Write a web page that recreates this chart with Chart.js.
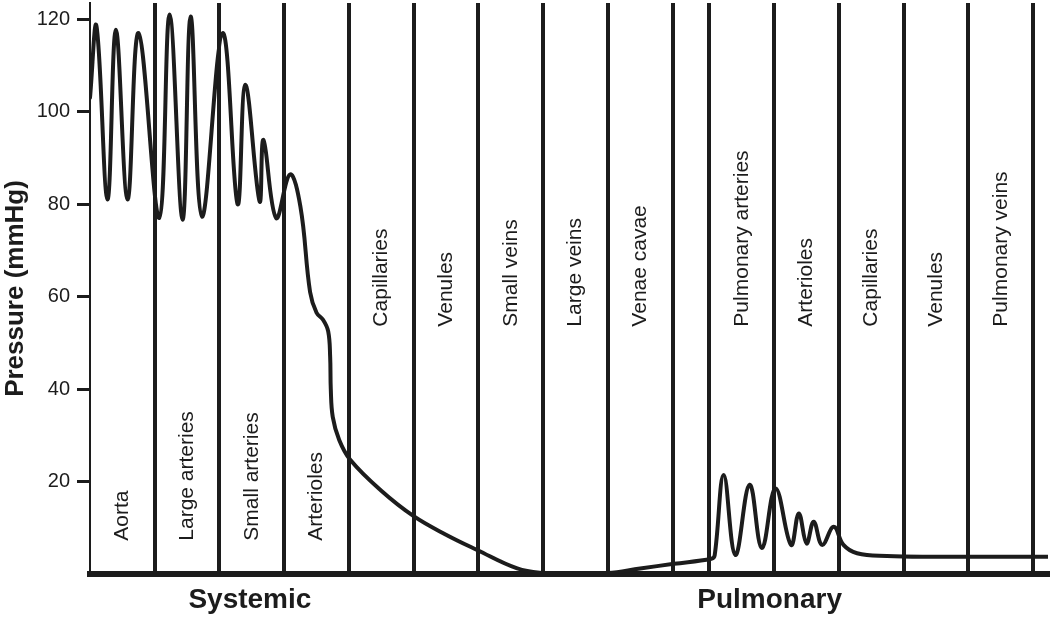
<!DOCTYPE html>
<html>
<head>
<meta charset="utf-8">
<script src="https://cdn.jsdelivr.net/npm/chart.js"></script>
<style>
  body { margin: 0; background: #fff; }
  .container { width: 1050px; height: 618px; }
</style>
</head>
<body>
<div class="container"><canvas id="myChart"></canvas></div>
<script>
// x is measured in vessel segments (one segment = one column)
const pressureX = [0, 0.10, 0.27, 0.40, 0.58, 0.75, 1.07, 1.23, 1.43, 1.555, 1.73, 2.05, 2.28, 2.40, 2.62, 2.68, 2.875,
    3.09, 3.25, 3.40, 3.50, 3.60, 3.68, 3.71, 3.72, 3.75, 3.85, 4.02, 4.5, 5.0, 5.5, 5.98, 6.6, 7.0, 7.5, 8.0, 8.5, 9.02,
    9.60, 9.65, 9.79, 9.97, 10.19, 10.38, 10.59, 10.83, 10.95, 11.07, 11.18, 11.31, 11.49, 11.64, 11.85, 12.31, 13.03, 14.8];
const pressureY = [103, 118.5, 81, 117.7, 81, 117, 77, 121, 76.6, 120.6, 77.3, 117, 80, 105.8, 80.6, 93.9, 77,
    86.4, 79.5, 61, 56.5, 55, 52.5, 47, 40, 34, 29, 24.7, 18, 12.5, 8.5, 5.2, 1.2, 0.2, 0, 0.2, 1.2, 2.2,
    3.3, 4, 21.4, 4.1, 19.3, 5.6, 18.5, 6.3, 13.1, 6.6, 11.3, 6.3, 10.2, 6.3, 4.5, 3.9, 3.75, 3.75];

const systemicSegments = ['Aorta', 'Large arteries', 'Small arteries', 'Arterioles', 'Capillaries', 'Venules', 'Small veins', 'Large veins', 'Venae cavae'];
const pulmonarySegments = ['Pulmonary arteries', 'Arterioles', 'Capillaries', 'Venules', 'Pulmonary veins'];
const pulmonaryStart = 9.57;
const yTicks = [20, 40, 60, 80, 100, 120];

const ink = '#1c1c1c';

// column edges
const systemicEdges = systemicSegments.map((_, i) => i + 1);
const pulmonaryEdges = pulmonarySegments.map((_, i) => pulmonaryStart + i + 1);
const edges = [...systemicEdges, pulmonaryStart, ...pulmonaryEdges];

const segmentLabels = {
    id: 'segmentLabels',
    afterDatasetsDraw(chart) {
        const { ctx, scales: { x, y } } = chart;
        ctx.save();
        ctx.fillStyle = ink;
        ctx.font = '21px "Liberation Sans", Arial, sans-serif';
        ctx.textBaseline = 'middle';
        ctx.textAlign = 'left';

        const drawVertical = (text, from, to, bottomValue) => {
            const cx = x.getPixelForValue((from + to) / 2);
            const cy = y.getPixelForValue(bottomValue);
            ctx.save();
            ctx.translate(cx, cy);
            ctx.rotate(-Math.PI / 2);
            ctx.fillText(text, 0, 0);
            ctx.restore();
        };

        systemicSegments.forEach((name, i) => {
            drawVertical(name, i, i + 1, i < 4 ? 7.2 : 53.5);
        });
        pulmonarySegments.forEach((name, i) => {
            drawVertical(name, pulmonaryStart + i, pulmonaryStart + i + 1, 53.5);
        });

        // circuit names under the axis
        ctx.font = 'bold 28px "Liberation Sans", Arial, sans-serif';
        ctx.textAlign = 'center';
        ctx.textBaseline = 'alphabetic';
        ctx.fillText('Systemic', x.getPixelForValue(2.47), 608);
        ctx.fillText('Pulmonary', x.getPixelForValue(10.5), 608);
        ctx.restore();
    }
};

const ctx = document.getElementById('myChart');

new Chart(ctx, {
    type: 'line',
    data: {
        datasets: [{
            label: 'Pressure',
            data: pressureX.map((v, i) => ({ x: v, y: pressureY[i] })),
            borderColor: ink,
            borderWidth: 4,
            borderJoinStyle: 'round',
            borderCapStyle: 'round',
            pointRadius: 0,
            tension: 0.4,
            fill: false
        }]
    },
    options: {
        responsive: true,
        maintainAspectRatio: false,
        animation: false,
        layout: {
            padding: { top: 3, right: 2, bottom: 44, left: 0 }
        },
        scales: {
            x: {
                type: 'linear',
                min: 0,
                max: 14.8,
                afterBuildTicks: (scale) => {
                    scale.ticks = edges.map(v => ({ value: v }));
                },
                ticks: { display: false },
                grid: {
                    color: ink,
                    lineWidth: 4,
                    drawTicks: false
                },
                border: {
                    display: true,
                    color: ink,
                    width: 6
                }
            },
            y: {
                min: 0,
                max: 123.5,
                afterBuildTicks: (scale) => {
                    scale.ticks = yTicks.map(v => ({ value: v }));
                },
                afterFit: (scale) => {
                    scale.width = 90;
                    scale.paddingTop = 0;
                    scale.paddingBottom = 0;
                },
                ticks: {
                    color: ink,
                    padding: 7,
                    font: { size: 20, family: '"Liberation Sans", Arial, sans-serif' }
                },
                grid: {
                    drawOnChartArea: false,
                    drawTicks: true,
                    tickLength: 13,
                    tickWidth: 3,
                    tickColor: ink
                },
                border: {
                    display: true,
                    color: ink,
                    width: 2
                },
                title: {
                    display: true,
                    text: 'Pressure (mmHg)',
                    color: ink,
                    padding: 0,
                    font: { size: 26, weight: 'bold', family: '"Liberation Sans", Arial, sans-serif' }
                }
            }
        },
        plugins: {
            legend: { display: false },
            tooltip: { enabled: false }
        }
    },
    plugins: [segmentLabels]
});
</script>
</body>
</html>
